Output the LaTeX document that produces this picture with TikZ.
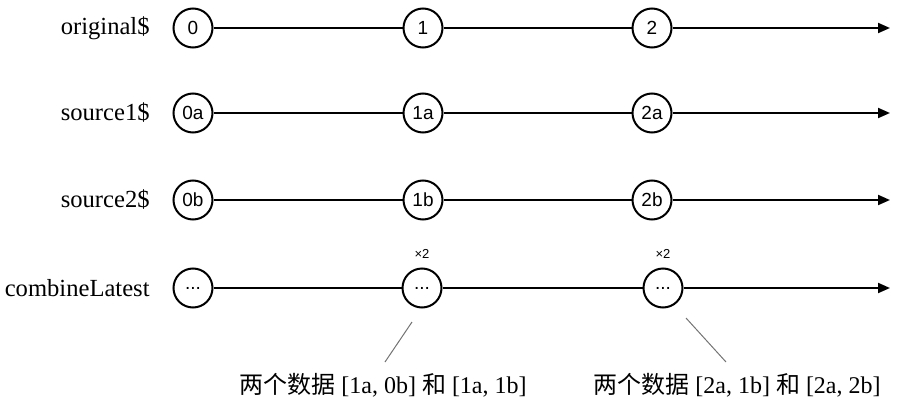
\documentclass[tikz,border=0pt]{standalone}
\usepackage{fontspec}
\setmainfont{Liberation Serif}
\newfontfamily\marblefont{Liberation Sans}
\newfontfamily\cjk{Noto Sans CJK SC}
\usetikzlibrary{arrows.meta}
\tikzset{
  marble/.style={circle,draw=black,line width=1pt,fill=white,minimum size=19.5pt,inner sep=0pt,font=\marblefont\fontsize{9.5}{11}\selectfont},
  rowlabel/.style={anchor=east,inner sep=0pt,font=\fontsize{12.3}{14}\selectfont},
  timeline/.style={draw=black,line width=1pt},
  tl/.style={timeline,-{Triangle[length=6pt,width=5pt]}},
  times/.style={font=\marblefont\fontsize{6.5}{7}\selectfont},
  pointer/.style={draw=black!55,line width=0.5pt},
  note/.style={font=\fontsize{12}{14}\selectfont},
}

\begin{document}
\begin{tikzpicture}[x=0.5pt,y=-0.5pt]
  \useasboundingbox (0,0) rectangle (900,407);
  % the three input streams
  \foreach \n/\y/\lab/\a/\b/\c in {o/28/original\$/0/1/2, s/113/source1\$/0a/1a/2a, t/200/source2\$/0b/1b/2b}{
    \node[rowlabel] (\n-lab) at (150,\y) {\lab};
    \node[marble] (\n0) at (193,\y) {\a};
    \node[marble] (\n1) at (423,\y) {\b};
    \node[marble] (\n2) at (652,\y) {\c};
    \coordinate (\n-end) at (890,\y);
    \draw[timeline] (\n0) -- (\n1) -- (\n2);
    \draw[tl] (\n2) -- (\n-end);
  }
  % combined output
  \node[rowlabel] (m-lab) at (150,288) {combineLatest};
  \node[marble] (m0) at (193,288) {...};
  \node[marble] (m1) at (422,288) {...};
  \node[marble] (m2) at (663,288) {...};
  \coordinate (m-end) at (890,288);
  \draw[timeline] (m0) -- (m1) -- (m2);
  \draw[tl] (m2) -- (m-end);
  \node[times] (x1) at (422,254) {×2};
  \node[times] (x2) at (663,254) {×2};
  % notes
  \node[note] (note1) at (383,385) {{\cjk 两个数据} [1a, 0b] {\cjk 和} [1a, 1b]};
  \node[note] (note2) at (737,385) {{\cjk 两个数据} [2a, 1b] {\cjk 和} [2a, 2b]};
  \coordinate (a1) at (412,322);
  \coordinate (b1) at (385,362);
  \coordinate (a2) at (686,318);
  \coordinate (b2) at (726,362);
  \draw[pointer] (a1) -- (b1);
  \draw[pointer] (a2) -- (b2);
\end{tikzpicture}
\end{document}
